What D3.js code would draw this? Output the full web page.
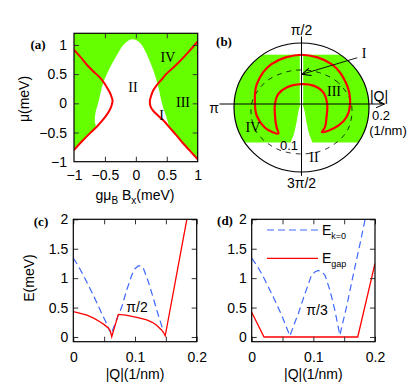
<!DOCTYPE html>
<html>
<head>
<meta charset="utf-8">
<script src="https://cdn.jsdelivr.net/npm/d3@7"></script>
<style>
  body { margin: 0; background: #fff; }
</style>
</head>
<body>
<div id="svgWrapper"></div>
<script>
// ---- panel (a): gμB Bx (meV) against μ (meV)
var redLeftX   = [-1.00, -0.90, -0.80, -0.69, -0.58, -0.50, -0.45, -0.41, -0.39, -0.377, -0.39, -0.42, -0.48, -0.555, -0.64, -0.74, -0.87, -1.00];
var redLeftMu  = [ 0.92,  0.80,  0.67,  0.55,  0.44,  0.33,  0.24,  0.16,  0.10,  0.05, -0.03, -0.11, -0.21, -0.31, -0.41, -0.51, -0.65, -0.80];
var redRightX  = [1.00, 0.86, 0.71, 0.60, 0.49, 0.41, 0.33, 0.28, 0.245, 0.226, 0.24, 0.29, 0.37, 0.47, 0.55, 0.65, 0.76, 0.88, 1.00];
var redRightMu = [1.06, 0.89, 0.72, 0.61, 0.50, 0.40, 0.30, 0.22, 0.12, 0.03, -0.06, -0.14, -0.22, -0.32, -0.42, -0.54, -0.68, -0.82, -0.96];
// edge of the white (II / I) region
var domeX  = [-0.65, -0.665, -0.65, -0.61, -0.57, -0.53, -0.46, -0.39, -0.31, -0.21, -0.13, -0.06, 0.01, 0.08, 0.15, 0.21, 0.27, 0.31, 0.35, 0.385, 0.415, 0.45, 0.49, 0.52, 0.55];
var domeMu = [-0.42, -0.30, -0.15, 0.00, 0.18, 0.35, 0.52, 0.67, 0.82, 0.99, 1.07, 1.10, 1.08, 1.02, 0.90, 0.76, 0.60, 0.48, 0.33, 0.18, 0.03, -0.10, -0.22, -0.33, -0.42];
var aTicks = [-1, -0.5, 0, 0.5, 1];

// ---- panel (b): polar map, angle in degrees, |Q| in 1/nm
var horseOuterAng = [-54, -45, -30, -16, 0, 24, 53, 90, 127, 156, 180, 195, 213, 225, 232];
var horseOuterR   = [0.103, 0.112, 0.127, 0.139, 0.144, 0.146, 0.148, 0.146, 0.148, 0.145, 0.138, 0.137, 0.129, 0.119, 0.111];
var horseInnerAng = [223, 204, 180, 157, 132, 90, 57, 28, 0, -28, -45];
var horseInnerR   = [0.101, 0.086, 0.0785, 0.075, 0.066, 0.059, 0.065, 0.073, 0.076, 0.084, 0.098];
var dashAng = [0, 30, 60, 90, 120, 150, 180, 210, 240, 270, 300, 330];
var dashR   = [0.148, 0.126, 0.107, 0.101, 0.107, 0.126, 0.148, 0.157, 0.152, 0.148, 0.152, 0.157];
var bandTop = 0.146, bandBottom = -0.114;      // green band (Qy limits)
var cuspQy = [0.0, -0.02, -0.05, -0.075, -0.09, -0.105, -0.125];
var cuspQx = [0.003, 0.009, 0.014, 0.019, 0.023, 0.029, 0.036];

// ---- panels (c), (d): |Q| (1/nm) against E (meV)
var cQgap = [0, 0.01, 0.022, 0.033, 0.043, 0.05, 0.057, 0.06, 0.0623, 0.073, 0.085, 0.097, 0.108, 0.119, 0.128, 0.135, 0.143, 0.146, 0.149, 0.184];
var cEgap = [0.43, 0.405, 0.37, 0.32, 0.26, 0.21, 0.15, 0.10, 0.005, 0.385, 0.37, 0.345, 0.32, 0.29, 0.25, 0.20, 0.12, 0.08, 0.02, 2.0];
var cQk0 = [0, 0.008, 0.0162, 0.0245, 0.0324, 0.040, 0.046, 0.052, 0.057, 0.0615, 0.0676, 0.073, 0.0785, 0.0866, 0.0947, 0.100, 0.1054, 0.1095, 0.1135, 0.1216, 0.1297, 0.1378, 0.146];
var cEk0 = [1.34, 1.21, 1.05, 0.88, 0.71, 0.54, 0.40, 0.27, 0.15, 0.05, 0.23, 0.37, 0.51, 0.80, 1.05, 1.16, 1.21, 1.21, 1.17, 0.94, 0.66, 0.37, 0.10];
var dQgap = [0, 0.02, 0.172, 0.2];
var dEgap = [0.42, 0.0, 0.0, 1.25];
var dQk0 = [0, 0.01, 0.019, 0.027, 0.035, 0.042, 0.0486, 0.055, 0.062, 0.069, 0.0757, 0.0865, 0.097, 0.103, 0.108, 0.113, 0.119, 0.127, 0.135, 0.143, 0.154, 0.165, 0.175, 0.184];
var dEk0 = [1.34, 1.19, 1.02, 0.85, 0.68, 0.52, 0.37, 0.20, 0.02, 0.22, 0.40, 0.74, 1.05, 1.11, 1.13, 1.11, 1.05, 0.79, 0.45, 0.03, 0.52, 1.07, 1.55, 2.0];
var qTicks = [0, 0.05, 0.1, 0.15, 0.2];
var qLabels = [0, 0.1, 0.2];
var eTicks = [0, 0.5, 1, 1.5, 2];

var GREEN = "#66ff00", RED = "#ff0000", BLUE = "#3f68ff";
var sans = '"Liberation Sans", Arial, sans-serif';
var serif = '"Liberation Serif", "Times New Roman", serif';

function zip(a, b) { return a.map(function(v, i) { return [v, b[i]]; }); }

var svg = d3.select("#svgWrapper").append("svg")
  .attr("width", 415).attr("height", 388)
  .style("font-family", sans);
var defs = svg.append("defs");

// frame with inward ticks on all four sides, labels left/bottom
function drawFrame(g, x, y, xTicks, yTicks, xLab, yLab, xPad, yPad) {
  var xr = x.range(), yr = y.range();
  g.append("g").attr("transform", "translate(0," + yr[0] + ")")
    .call(d3.axisBottom(x).tickValues(xTicks).tickSize(-5).tickFormat(""));
  g.append("g").attr("transform", "translate(0," + yr[1] + ")")
    .call(d3.axisTop(x).tickValues(xTicks).tickSize(-5).tickFormat(""));
  g.append("g").attr("transform", "translate(" + xr[0] + ",0)")
    .call(d3.axisLeft(y).tickValues(yTicks).tickSize(-5).tickFormat(""));
  g.append("g").attr("transform", "translate(" + xr[1] + ",0)")
    .call(d3.axisRight(y).tickValues(yTicks).tickSize(-5).tickFormat(""));
  g.append("g").attr("transform", "translate(0," + yr[0] + ")")
    .call(d3.axisBottom(x).tickValues(xLab).tickSize(0).tickPadding(xPad).tickFormat(d3.format("")));
  if (yLab) {
    g.append("g").attr("transform", "translate(" + xr[0] + ",0)")
      .call(d3.axisLeft(y).tickValues(yLab).tickSize(0).tickPadding(yPad).tickFormat(d3.format("")));
  }
  g.selectAll(".domain").remove();
  g.selectAll(".tick line").attr("stroke", "#333").attr("stroke-width", 1);
  g.selectAll(".tick text").style("font-family", sans).style("font-size", "14px").attr("fill", "#000");
  g.append("rect")
    .attr("x", xr[0]).attr("y", yr[1])
    .attr("width", xr[1] - xr[0]).attr("height", yr[0] - yr[1])
    .attr("fill", "none").attr("stroke", "#000").attr("stroke-width", 1.2);
}

function clipRect(id, x, y) {
  defs.append("clipPath").attr("id", id).append("rect")
    .attr("x", x.range()[0]).attr("y", y.range()[1])
    .attr("width", x.range()[1] - x.range()[0]).attr("height", y.range()[0] - y.range()[1]);
}

// ================= (a)
var xA = d3.scaleLinear().domain([-1, 1]).range([74, 197.7]);
var yA = d3.scaleLinear().domain([-1, 1.2]).range([161.7, 33.3]);
clipRect("clipA", xA, yA);
var gA = svg.append("g");
var plotA = gA.append("g").attr("clip-path", "url(#clipA)");
plotA.append("rect")
  .attr("x", xA(-1)).attr("y", yA(1.2))
  .attr("width", xA(1) - xA(-1)).attr("height", yA(-1) - yA(1.2))
  .attr("fill", GREEN);

var whitePts = zip(domeX, domeMu)
  .concat(zip(redRightX, redRightMu).filter(function(d) { return d[1] < -0.42; }))
  .concat([[1.3, -1.3], [-1.3, -1.3]])
  .concat(zip(redLeftX, redLeftMu).filter(function(d) { return d[1] < -0.42; }).reverse());
var areaA = d3.line().x(function(d) { return xA(d[0]); }).y(function(d) { return yA(d[1]); })
  .curve(d3.curveCatmullRomClosed);
plotA.append("path").attr("d", areaA(whitePts)).attr("fill", "#fff");

var redA = d3.line().x(function(d) { return xA(d[0]); }).y(function(d) { return yA(d[1]); })
  .curve(d3.curveCatmullRom);
[zip(redLeftX, redLeftMu), zip(redRightX, redRightMu)].forEach(function(pts) {
  plotA.append("path").attr("d", redA(pts))
    .attr("fill", "none").attr("stroke", RED).attr("stroke-width", 2);
});
drawFrame(gA, xA, yA, [-0.5, 0, 0.5], [-0.5, 0, 0.5, 1], aTicks, aTicks, 8, 7);

// region labels (a)
[["II", 133, 92], ["IV", 168, 62], ["III", 183, 107], ["I", 161.5, 120]].forEach(function(t) {
  gA.append("text").attr("x", t[1]).attr("y", t[2]).attr("text-anchor", "middle")
    .style("font-family", serif).style("font-size", "14px").text(t[0]);
});
gA.append("text").attr("x", 38).attr("y", 49).attr("text-anchor", "middle")
  .style("font-family", serif).style("font-weight", "bold").style("font-size", "13px").text("(a)");
var xlabA = gA.append("text").attr("x", 135).attr("y", 200).attr("text-anchor", "middle").style("font-size", "14px");
xlabA.append("tspan").text("gμ");
xlabA.append("tspan").attr("dy", 4).style("font-size", "10px").text("B");
xlabA.append("tspan").attr("dy", -4).text(" B");
xlabA.append("tspan").attr("dy", 4).style("font-size", "10px").text("x");
xlabA.append("tspan").attr("dy", -4).text("(meV)");
gA.append("text").attr("transform", "translate(29,99) rotate(-90)")
  .attr("text-anchor", "middle").style("font-size", "14px").text("μ(meV)");

// ================= (b)
var xB = d3.scaleLinear().domain([-0.2, 0.2]).range([234, 369]);
var yB = d3.scaleLinear().domain([-0.2, 0.2]).range([171.5, 36.5]);
var rimShift = -0.0104, rimRy = 64.5;          // drawn rim of the polar plot
function pol(a, r) { var t = a * Math.PI / 180; return [r * Math.cos(t), r * Math.sin(t)]; }
var lineB = d3.line().x(function(d) { return xB(d[0]); }).y(function(d) { return yB(d[1]); });

defs.append("clipPath").attr("id", "clipB").append("ellipse")
  .attr("cx", xB(0)).attr("cy", yB(rimShift))
  .attr("rx", xB(0.2) - xB(0)).attr("ry", rimRy);
var gB = svg.append("g");
var plotB = gB.append("g").attr("clip-path", "url(#clipB)");
plotB.append("rect")
  .attr("x", xB(-0.2)).attr("y", yB(bandTop))
  .attr("width", xB(0.2) - xB(-0.2)).attr("height", yB(bandBottom) - yB(bandTop))
  .attr("fill", GREEN);
var cuspPts = zip(cuspQx, cuspQy).concat(zip(cuspQx.map(function(v) { return -v; }), cuspQy).reverse());
plotB.append("path").attr("d", lineB(cuspPts) + "Z").attr("fill", "#fff");
plotB.append("rect")
  .attr("x", xB(-0.005)).attr("y", yB(bandTop))
  .attr("width", xB(0.005) - xB(-0.005)).attr("height", yB(0) - yB(bandTop))
  .attr("fill", "#fff");

var closedB = d3.line().x(function(d) { return xB(d[0]); }).y(function(d) { return yB(d[1]); })
  .curve(d3.curveCatmullRomClosed);
plotB.append("path")
  .attr("d", closedB(dashAng.map(function(a, i) { return pol(a, dashR[i]); })))
  .attr("fill", "none").attr("stroke", "#000").attr("stroke-width", 0.8).attr("stroke-dasharray", "5,5");
var horse = horseOuterAng.map(function(a, i) { return pol(a, horseOuterR[i]); })
  .concat(horseInnerAng.map(function(a, i) { return pol(a, horseInnerR[i]); }));
plotB.append("path").attr("d", closedB(horse))
  .attr("fill", "none").attr("stroke", RED).attr("stroke-width", 2.2);

gB.append("ellipse")
  .attr("cx", xB(0)).attr("cy", yB(rimShift))
  .attr("rx", xB(0.2) - xB(0)).attr("ry", rimRy)
  .attr("fill", "none").attr("stroke", "#000").attr("stroke-width", 1.2);

defs.append("marker").attr("id", "vhead").attr("viewBox", "0 0 10 10")
  .attr("refX", 9).attr("refY", 5).attr("markerWidth", 10).attr("markerHeight", 10)
  .attr("markerUnits", "userSpaceOnUse").attr("orient", "auto")
  .append("path").attr("d", "M0,1 L9,5 L0,9").attr("fill", "none").attr("stroke", "#000").attr("stroke-width", 1);
gB.append("line")
  .attr("x1", xB(-0.243)).attr("y1", yB(0)).attr("x2", xB(0.246)).attr("y2", yB(0))
  .attr("stroke", "#000").attr("stroke-width", 1).attr("marker-end", "url(#vhead)");
gB.append("line")
  .attr("x1", xB(0)).attr("y1", yB(0.2)).attr("x2", xB(0)).attr("y2", yB(-0.213))
  .attr("stroke", "#000").attr("stroke-width", 1);
gB.append("line")
  .attr("x1", xB(0.165)).attr("y1", yB(0.137)).attr("x2", xB(0.001)).attr("y2", yB(0.088))
  .attr("stroke", "#000").attr("stroke-width", 0.9).attr("marker-end", "url(#vhead)");

[["π/2", 301.5, 35, 14], ["3π/2", 301.5, 188, 14], ["π", 214, 113, 14], ["|Q|", 379, 101, 14],
 ["0.2", 381, 120, 13], ["(1/nm)", 388, 135, 13]].forEach(function(t) {
  gB.append("text").attr("x", t[1]).attr("y", t[2]).attr("text-anchor", "middle")
    .style("font-size", t[3] + "px").text(t[0]);
});
gB.append("text").attr("x", 289).attr("y", 150).attr("text-anchor", "middle")
  .style("font-size", "13px").text("0.1");
[["I", 364, 58], ["III", 334, 96], ["IV", 253, 132], ["II", 314, 162]].forEach(function(t) {
  gB.append("text").attr("x", t[1]).attr("y", t[2]).attr("text-anchor", "middle")
    .style("font-family", serif).style("font-size", "14px").text(t[0]);
});
gB.append("text").attr("x", 224).attr("y", 46).attr("text-anchor", "middle")
  .style("font-family", serif).style("font-weight", "bold").style("font-size", "13px").text("(b)");

// ================= (c) and (d)
var yE = d3.scaleLinear().domain([-0.08, 2]).range([341.7, 219.3]);
var xC = d3.scaleLinear().domain([0, 0.2]).range([73.3, 196.7]);
var xD = d3.scaleLinear().domain([0, 0.2]).range([251.7, 375]);

function energyPanel(id, x, qGap, eGap, qK0, eK0, yLab) {
  clipRect(id, x, yE);
  var g = svg.append("g");
  var plot = g.append("g").attr("clip-path", "url(#" + id + ")");
  var line = d3.line().x(function(d) { return x(d[0]); }).y(function(d) { return yE(d[1]); });
  plot.append("path").attr("d", line(zip(qK0, eK0)))
    .attr("fill", "none").attr("stroke", BLUE).attr("stroke-width", 1.2).attr("stroke-dasharray", "7,4");
  plot.append("path").attr("d", line(zip(qGap, eGap)))
    .attr("fill", "none").attr("stroke", RED).attr("stroke-width", 1.3);
  drawFrame(g, x, yE, qTicks, eTicks, qLabels, yLab, 10, 5);
  g.append("text").attr("x", (x.range()[0] + x.range()[1]) / 2).attr("y", 379)
    .attr("text-anchor", "middle").style("font-size", "14px").text("|Q|(1/nm)");
  return g;
}

var gC = energyPanel("clipC", xC, cQgap, cEgap, cQk0, cEk0, eTicks);
gC.append("text").attr("transform", "translate(34,278) rotate(-90)")
  .attr("text-anchor", "middle").style("font-size", "14px").text("E(meV)");
gC.append("text").attr("x", 137).attr("y", 312).attr("text-anchor", "middle")
  .style("font-size", "14px").text("π/2");
gC.append("text").attr("x", 41).attr("y", 226).attr("text-anchor", "middle")
  .style("font-family", serif).style("font-weight", "bold").style("font-size", "13px").text("(c)");

var gD = energyPanel("clipD", xD, dQgap, dEgap, dQk0, dEk0, eTicks);
gD.append("text").attr("x", 317).attr("y", 315).attr("text-anchor", "middle")
  .style("font-size", "14px").text("π/3");
gD.append("text").attr("x", 225).attr("y", 225).attr("text-anchor", "middle")
  .style("font-family", serif).style("font-weight", "bold").style("font-size", "13px").text("(d)");

// legend (d)
var legend = [["k=0", BLUE, "7,4", 230], ["gap", RED, null, 258.3]];
legend.forEach(function(l) {
  var ln = gD.append("line").attr("x1", 267).attr("x2", 318).attr("y1", l[3]).attr("y2", l[3])
    .attr("stroke", l[1]).attr("stroke-width", l[2] ? 1.2 : 1.3);
  if (l[2]) ln.attr("stroke-dasharray", l[2]);
  var t = gD.append("text").attr("x", 322).attr("y", l[3] + 5).style("font-size", "14px");
  t.append("tspan").text("E");
  t.append("tspan").attr("dy", 4).style("font-size", "9px").text(l[0]);
});
</script>
</body>
</html>
